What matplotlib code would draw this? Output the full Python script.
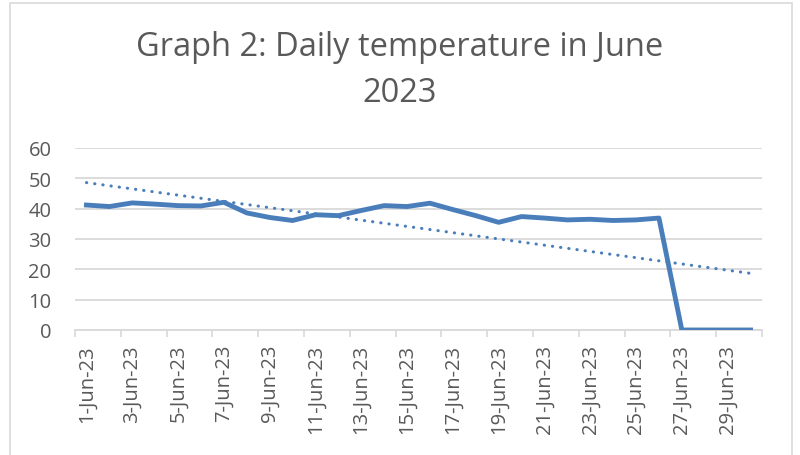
import numpy as np
import matplotlib
matplotlib.use('Agg')
import matplotlib.pyplot as plt
from matplotlib.patches import Rectangle

# daily temperature readings, June 2023
days = list(range(1, 31))
day_labels = [f'{d}-Jun-23' for d in days]
temps = [41.2, 40.7, 41.9, 41.5, 41.0, 40.9, 42.1, 38.6, 37.1, 36.1,
         38.0, 37.7, 39.4, 41.0, 40.7, 41.8, 39.7, 37.7, 35.5, 37.4,
         36.9, 36.3, 36.5, 36.1, 36.3, 36.9, 0, 0, 0, 0]
y_ticks = [0, 10, 20, 30, 40, 50, 60]

text_col = '#595959'
grid_col = '#d9d9d9'
line_col = '#4a7ebb'

plt.rcParams['font.family'] = ['Open Sans', 'DejaVu Sans']

fig = plt.figure(figsize=(8, 4.56), dpi=100)
ax = fig.add_axes([75 / 800, 125 / 456, 687 / 800, 182 / 456])

# chart border
fig.patches.append(Rectangle((10 / 800, -0.05), 782 / 800, 1.05 - 4 / 456,
                             transform=fig.transFigure, fill=False,
                             edgecolor=grid_col, linewidth=1.2))

ax.plot(days, temps, color=line_col, linewidth=3.5, solid_joinstyle='round', zorder=3)

# linear trendline like excel
slope, intercept = np.polyfit(days, temps, 1)
trend = [slope * d + intercept for d in days]
ax.plot(days, trend, color=line_col, linewidth=2.2, linestyle=(0, (0.1, 2.6)),
        dash_capstyle='round', zorder=2)

ax.set_xlim(0.5, 30.5)
ax.set_ylim(0, 60)
ax.set_yticks(y_ticks)
ax.set_xticks(days[::2])
ax.set_xticklabels(day_labels[::2], rotation=90)
ax.set_xticks(np.arange(0.5, 31, 2), minor=True)

ax.tick_params(axis='x', which='major', length=0, pad=10, labelsize=14.5, labelcolor=text_col)
ax.tick_params(axis='x', which='minor', length=5, width=1.2, color=grid_col)
ax.tick_params(axis='y', length=0, pad=17, labelsize=14.5, labelcolor=text_col)

ax.grid(axis='y', color=grid_col, linewidth=1.3)
ax.set_axisbelow(True)
for side in ['left', 'right', 'top']:
    ax.spines[side].set_visible(False)
ax.spines['bottom'].set_color(grid_col)
ax.spines['bottom'].set_linewidth(1.3)

fig.text(0.5, 1 - 47 / 456, 'Graph 2: Daily temperature in June', ha='center', va='center',
         fontsize=23.5, color=text_col)
fig.text(0.5, 1 - 94 / 456, '2023', ha='center', va='center', fontsize=23.5, color=text_col)

fig.savefig('out.png', dpi=100)
